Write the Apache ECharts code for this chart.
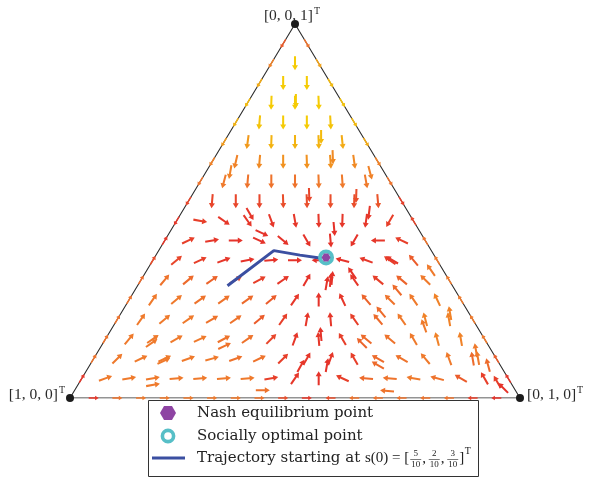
<!DOCTYPE html>
<html>
<head>
<meta charset="utf-8">
<script src="https://cdn.jsdelivr.net/npm/echarts@6/dist/echarts.min.js"></script>
<style>
  html, body { margin: 0; padding: 0; background: #fff; }
  #chart { width: 601px; height: 479px; }
</style>
</head>
<body>
<div id="chart"></div>
<script>
// Simplex lattice resolution: points s = [i, j, k] / N with i + j + k = N
const N = 19;

// Interior arrow directions in degrees (0 = right, 90 = up), rows k = 1..17, j = 1..(N-1-k)
const angleRows = [
  [20, 10, 10, 5, 5, 5, 5, 10, 55, 90, 155, 175, 175, 170, 165, 150, 120],
  [45, 25, 25, 20, 15, 20, 25, 45, 60, 70, 120, 150, 150, 130, 110, 100],
  [50, 35, 30, 25, 28, 35, 45, 70, 95, 120, 140, 140, 120, 105, 100],
  [55, 40, 35, 30, 35, 40, 55, 80, 95, 125, 130, 125, 105, 100],
  [55, 40, 35, 35, 35, 40, 55, 90, 115, 130, 135, 125, 115],
  [50, 40, 35, 30, 28, 35, 60, 85, 125, 140, 140, 135],
  [40, 25, 20, 10, 5, 0, 180, 165, 160, 145, 130],
  [25, 10, 0, -25, -40, -60, -85, -120, 180, 155],
  [-10, -35, -55, -70, -80, -88, -92, -98, -120],
  [-95, -90, -90, -88, -88, -90, -92, -85],
  [-105, -95, -90, -90, -88, -86, -80],
  [-103, -95, -90, -88, -86, -82],
  [-98, -92, -90, -88, -84],
  [-95, -90, -90, -87],
  [-92, -90, -88],
  [-90, -90],
  [-90]
];

// Relative speed at each interior point (0 = slow/red, 1 = fast/yellow)
const speedRows = [
  [0.5, 0.5, 0.5, 0.5, 0.5, 0.5, 0.5, 0.1, 0.05, 0.02, 0.1, 0.4, 0.45, 0.5, 0.45, 0.3, 0.1],
  [0.5, 0.5, 0.5, 0.5, 0.5, 0.45, 0.45, 0.1, 0.05, 0.05, 0.1, 0.4, 0.45, 0.5, 0.5, 0.4],
  [0.5, 0.5, 0.5, 0.5, 0.45, 0.45, 0.15, 0.05, 0.05, 0.1, 0.4, 0.45, 0.5, 0.55, 0.55],
  [0.5, 0.5, 0.5, 0.45, 0.45, 0.3, 0.1, 0.05, 0.05, 0.1, 0.4, 0.5, 0.55, 0.55],
  [0.5, 0.5, 0.45, 0.45, 0.4, 0.3, 0.05, 0.02, 0.05, 0.35, 0.45, 0.5, 0.55],
  [0.45, 0.4, 0.35, 0.2, 0.1, 0.05, 0.02, 0.02, 0.05, 0.1, 0.35, 0.5],
  [0.15, 0.1, 0.05, 0.02, 0.02, 0.02, 0, 0.02, 0.05, 0.1, 0.3],
  [0.1, 0.05, 0.02, 0.02, 0.02, 0.02, 0.02, 0.02, 0.05, 0.1],
  [0.1, 0.05, 0.05, 0.05, 0.05, 0.05, 0.05, 0.05, 0.1],
  [0.15, 0.15, 0.15, 0.2, 0.2, 0.2, 0.2, 0.25],
  [0.5, 0.45, 0.45, 0.45, 0.5, 0.5, 0.5],
  [0.55, 0.6, 0.65, 0.65, 0.65, 0.6],
  [0.7, 0.85, 0.85, 0.85, 0.8],
  [0.95, 1, 1, 0.95],
  [1, 1, 1],
  [1, 1],
  [1]
];

// Arrows on the three edges (k = 1..18 for the slanted edges, j = 1..18 for the bottom)
const leftEdgeAngles = [59, 59, 59, 59, 59, 59, 59, 59, -121, -121, -121, -121, -121, -121, -121, -121, -121, -121];
const leftEdgeSpeeds = [0.05, 0.45, 0.45, 0.45, 0.45, 0.4, 0.2, 0.05, 0.05, 0.15, 0.45, 0.55, 0.7, 0.85, 0.9, 0.8, 0.55, 0.3];
const rightEdgeAngles = [121, 121, 121, 121, 121, 121, 121, 121, 121, -59, -59, -59, -59, -59, -59, -59, -59, -59];
const rightEdgeSpeeds = [0.05, 0.3, 0.5, 0.5, 0.5, 0.5, 0.5, 0.45, 0.15, 0.1, 0.45, 0.55, 0.8, 0.9, 0.95, 0.9, 0.75, 0.45];
const bottomEdgeAngles = [0, 0, 0, 0, 0, 0, 0, 0, 0, 0, 180, 180, 180, 180, 180, 180, 180, 180];
const bottomEdgeSpeeds = [0.05, 0.45, 0.5, 0.5, 0.5, 0.5, 0.5, 0.45, 0.2, 0.05, 0.2, 0.45, 0.45, 0.45, 0.45, 0.45, 0.1, 0.02];

// Additional sampled states [s1, s2, s3] with their arrow direction and speed
const extraStates = [
  [0.354, 0.154, 0.492], [0.197, 0.260, 0.543], [0.094, 0.262, 0.644], [0.093, 0.209, 0.698],
  [0.094, 0.366, 0.540], [0.088, 0.417, 0.495], [0.257, 0.422, 0.321], [0.276, 0.417, 0.307],
  [0.187, 0.361, 0.452], [0.353, 0.206, 0.441], [0.745, 0.108, 0.147], [0.587, 0.274, 0.139],
  [0.742, 0.159, 0.099], [0.799, 0.167, 0.035], [0.444, 0.470, 0.086], [0.385, 0.527, 0.088],
  [0.357, 0.472, 0.171], [0.278, 0.575, 0.147], [0.272, 0.640, 0.088], [0.286, 0.695, 0.019],
  [0.561, 0.418, 0.021], [0.194, 0.576, 0.230], [0.042, 0.731, 0.227], [0.117, 0.690, 0.193],
  [0.034, 0.838, 0.128], [0.040, 0.853, 0.107], [0.027, 0.885, 0.088], [0.029, 0.928, 0.043],
  [0.024, 0.949, 0.027], [0.100, 0.531, 0.369], [0.129, 0.582, 0.289], [0.025, 0.631, 0.342],
  [0.206, 0.460, 0.334], [0.101, 0.105, 0.794], [0.342, 0.054, 0.604], [0.032, 0.366, 0.602]
];
const extraAngles = [
  -60, -88, -88, -90, -92, -97, 85, 80, -85, -25, 35, 25,
  25, 10, 60, 80, 95, 135, 150, 175, 0, 130, 100, 110,
  100, 100, 105, 120, 135, 150, 130, 125, 125, -90, -100, -75
];
const extraSpeeds = [
  0.05, 0.15, 0.6, 0.9, 0.2, 0.05, 0.02, 0.02, 0.02, 0.02, 0.5, 0.45,
  0.5, 0.5, 0.05, 0.02, 0.02, 0.35, 0.4, 0.45, 0.45, 0.4, 0.55, 0.5,
  0.5, 0.5, 0.4, 0.1, 0.02, 0.05, 0.4, 0.5, 0.02, 1, 0.55, 0.55
];

// Trajectory from s(0) = [5/10, 2/10, 3/10] towards the equilibrium
const trajectory = [
  [0.5, 0.2, 0.3], [0.35, 0.256, 0.394], [0.298, 0.32, 0.382], [0.251, 0.376, 0.373], [0.243, 0.381, 0.376]
];
const nashPoint = [0.243, 0.381, 0.376];
const socialPoint = [0.243, 0.381, 0.376];

const vertices = [[1, 0, 0], [0, 1, 0], [0, 0, 1]];
const vertexLabels = ['[1, 0, 0]', '[0, 1, 0]', '[0, 0, 1]'];

// Barycentric -> planar coordinates of the simplex
const toXY = s => [s[1] + s[2] / 2, s[2]];
const latticeState = (j, k) => [(N - j - k) / N, j / N, k / N];

const arrowUp = 'path://M5,0 L10,10 L6.7,10 L6.7,28 L3.3,28 L3.3,10 L0,10 Z';
const hexagon = 'path://M0,5 L2.6,0.5 L7.4,0.5 L10,5 L7.4,9.5 L2.6,9.5 Z';

const fieldData = [];
angleRows.forEach((row, r) => {
  const k = r + 1;
  row.forEach((a, idx) => {
    const xy = toXY(latticeState(idx + 1, k));
    fieldData.push({ value: [xy[0], xy[1], speedRows[r][idx]], symbolRotate: a - 90 });
  });
});
extraStates.forEach((s, i) => {
  const xy = toXY(s);
  fieldData.push({ value: [xy[0], xy[1], extraSpeeds[i]], symbolRotate: extraAngles[i] - 90 });
});

const edgeData = [];
for (let k = 1; k < N; k++) {
  const l = toXY(latticeState(0, k));
  edgeData.push({ value: [l[0], l[1], leftEdgeSpeeds[k - 1]], symbolRotate: leftEdgeAngles[k - 1] - 90 });
  const r = toXY(latticeState(N - k, k));
  edgeData.push({ value: [r[0], r[1], rightEdgeSpeeds[k - 1]], symbolRotate: rightEdgeAngles[k - 1] - 90 });
}
for (let j = 1; j < N; j++) {
  const b = toXY(latticeState(j, 0));
  edgeData.push({ value: [b[0], b[1], bottomEdgeSpeeds[j - 1]], symbolRotate: bottomEdgeAngles[j - 1] - 90 });
}

const labelRich = {
  a: { fontFamily: 'Liberation Serif', fontSize: 15.5, color: '#2a2a2a' },
  t: { fontFamily: 'Liberation Serif', fontSize: 10, color: '#2a2a2a', padding: [0, 0, 10, 1] }
};
const labelPos = [
  { position: 'left', distance: 1, offset: [0, -3] },
  { position: 'right', distance: 3, offset: [0, -3] },
  { position: 'top', distance: 0, offset: [-3, 6] }
];
const vertexData = vertices.map((v, i) => ({
  value: toXY(v),
  label: Object.assign({ show: true, formatter: '{a|' + vertexLabels[i] + '}{t|T}', rich: labelRich }, labelPos[i])
}));

// Legend, drawn as graphic elements
function legendGraphics() {
  const ctx = document.createElement('canvas').getContext('2d');
  const textFont = '15px "DejaVu Serif"';
  const mathFont = '15px "Liberation Serif"';
  const fracFont = '9px "Liberation Serif"';
  const ink = '#222';
  const out = [];
  out.push({ type: 'rect', shape: { x: 148.5, y: 400.5, width: 330, height: 76 },
             style: { fill: '#fff', stroke: '#333', lineWidth: 1 }, z: 20 });
  const hx = 168, hy = 413, hr = 8;
  const pts = [];
  for (let i = 0; i < 6; i++) {
    const t = Math.PI / 3 * i;
    pts.push([hx + hr * Math.cos(t), hy + hr * Math.sin(t)]);
  }
  out.push({ type: 'polygon', shape: { points: pts }, style: { fill: '#8e44a3' }, z: 21 });
  out.push({ type: 'circle', shape: { cx: 168, cy: 436, r: 5.6 },
             style: { fill: 'none', stroke: '#57bfc7', lineWidth: 3.6 }, z: 21 });
  out.push({ type: 'line', shape: { x1: 152, y1: 458, x2: 185, y2: 458 },
             style: { stroke: '#3b4fa1', lineWidth: 3 }, z: 21 });
  const text = (str, x, y, font, extra) => out.push({
    type: 'text', x: x, y: y, z: 21,
    style: Object.assign({ text: str, font: font, fill: ink, verticalAlign: 'middle', align: 'left' }, extra || {})
  });
  text('Nash equilibrium point', 197, 413, textFont);
  text('Socially optimal point', 197, 436, textFont);
  let x = 197;
  const lead = 'Trajectory starting at ';
  text(lead, x, 458, textFont);
  ctx.font = textFont; x += ctx.measureText(lead).width;
  const head = 's(0) = [';
  text(head, x, 458, mathFont);
  ctx.font = mathFont; x += ctx.measureText(head).width + 1;
  const nums = ['5', '2', '3'];
  nums.forEach((n, i) => {
    ctx.font = fracFont;
    const w = ctx.measureText('10').width + 2;
    text(n, x + w / 2, 454, fracFont, { align: 'center' });
    text('10', x + w / 2, 465, fracFont, { align: 'center' });
    out.push({ type: 'line', shape: { x1: x, y1: 459.5, x2: x + w, y2: 459.5 },
               style: { stroke: ink, lineWidth: 0.6 }, z: 21 });
    x += w;
    if (i < 2) {
      text(',', x + 1, 459, mathFont);
      ctx.font = mathFont; x += ctx.measureText(', ').width;
    }
  });
  text(']', x + 1, 458, mathFont);
  ctx.font = mathFont; x += ctx.measureText(']').width + 1.5;
  text('T', x, 451, '10px "Liberation Serif"');
  return out;
}

const chart = echarts.init(document.getElementById('chart'), null, { renderer: 'canvas' });
chart.setOption({
  animation: false,
  backgroundColor: '#fff',
  grid: { left: 70, top: 24, width: 450, height: 374, containLabel: false },
  xAxis: { type: 'value', min: 0, max: 1, show: false },
  yAxis: { type: 'value', min: 0, max: 1, show: false },
  visualMap: {
    show: false, type: 'continuous', min: 0, max: 1, dimension: 2, seriesIndex: [1, 2],
    inRange: { color: ['#e5302a', '#ef7a2c', '#f5cb05'] }
  },
  series: [
    {
      type: 'line', silent: true, symbol: 'none', z: 1,
      data: [[0, 0], [1, 0], [0.5, 1], [0, 0]],
      lineStyle: { color: '#2b2b2b', width: 1.1 }
    },
    {
      type: 'scatter', silent: true, z: 2, symbol: arrowUp, symbolSize: [4.5, 10],
      itemStyle: { opacity: 1 },
      data: edgeData
    },
    {
      type: 'scatter', silent: true, z: 3, symbol: arrowUp, symbolSize: [6, 14],
      itemStyle: { opacity: 1 },
      data: fieldData
    },
    {
      type: 'line', silent: true, symbol: 'none', z: 5,
      data: trajectory.map(toXY),
      lineStyle: { color: '#3b4fa1', width: 3 }
    },
    {
      type: 'scatter', silent: true, z: 6, symbol: 'circle', symbolSize: 8,
      itemStyle: { color: '#1c1c1c', opacity: 1 },
      data: vertexData
    },
    {
      type: 'scatter', silent: true, z: 7, symbol: 'circle', symbolSize: 12,
      itemStyle: { color: '#ffffff', borderColor: '#57bfc7', borderWidth: 4, opacity: 1 },
      data: [toXY(socialPoint)]
    },
    {
      type: 'scatter', silent: true, z: 8, symbol: hexagon, symbolSize: [9, 8],
      itemStyle: { color: '#8e44a3', opacity: 1 },
      data: [toXY(nashPoint)]
    }
  ],
  graphic: legendGraphics()
});
</script>
</body>
</html>
